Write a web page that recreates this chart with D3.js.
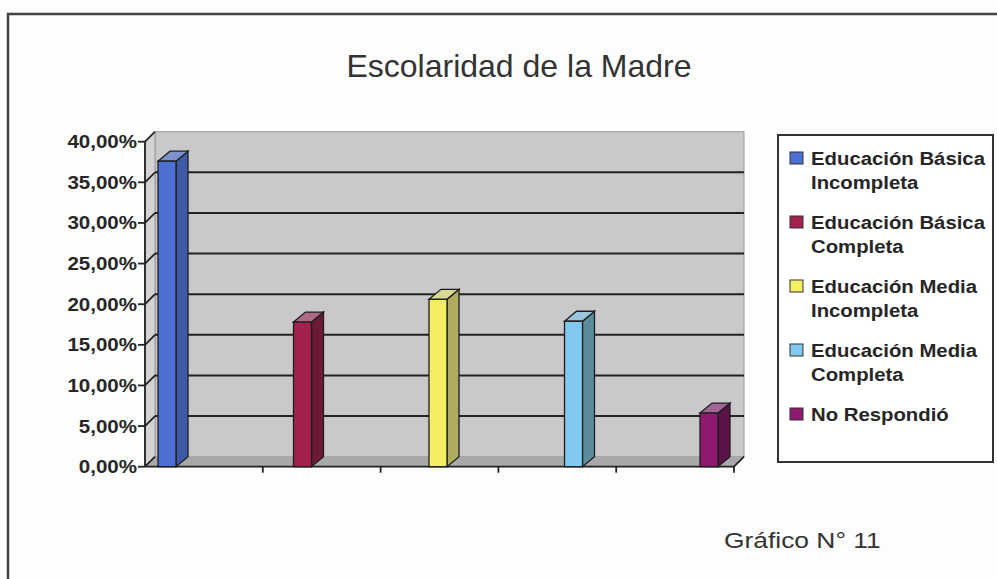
<!DOCTYPE html>
<html>
<head>
<meta charset="utf-8">
<script src="https://cdn.jsdelivr.net/npm/d3@7"></script>
<style>
  body { margin: 0; background: #fdfdfd; }
  svg { display: block; font-family: "Liberation Sans", Arial, sans-serif; }
</style>
</head>
<body>
<div id="chart"></div>
<script>
var categories = ["Educación Básica Incompleta", "Educación Básica Completa", "Educación Media Incompleta", "Educación Media Completa", "No Respondió"];
var legendLines = [["Educación Básica", "Incompleta"], ["Educación Básica", "Completa"], ["Educación Media", "Incompleta"], ["Educación Media", "Completa"], ["No Respondió"]];
var values = [37.6, 17.8, 20.6, 17.9, 6.6];
var yTicks = [0, 5, 10, 15, 20, 25, 30, 35, 40];
var colors = ["#4b6fd3", "#a3214f", "#f4ef62", "#82c9ef", "#8e1a6f"];
var sideColors = ["#3f5aa6", "#6c1b37", "#b0ab5e", "#5b8c9b", "#5a1248"];

var width = 997, height = 579;
var plotLeft = 145, plotRight = 734, plotTop = 141.7, plotBottom = 466.7;
var dx = 10, dy = -10;      // depth of back wall
var bdx = 12, bdy = -10;    // depth of a bar
var barW = 18;

var svg = d3.select("#chart").append("svg")
  .attr("width", width)
  .attr("height", height);

var yScale = d3.scaleLinear().domain([0, 40]).range([plotBottom, plotTop]);
var xPos = d3.scalePoint().domain(categories).range([167, 709]);
var xTick = d3.scaleLinear().domain([0, 5]).range([plotLeft, plotRight]);

var es = d3.formatLocale({decimal: ",", thousands: ".", grouping: [3], currency: ["", ""]});
var fmt = es.format(".2f");

// outer frame
svg.append("path")
  .attr("d", "M8," + height + "V14H" + width)
  .style("fill", "none")
  .style("stroke", "#444")
  .style("stroke-width", 2.5);

// back wall
svg.append("rect")
  .attr("x", plotLeft + dx).attr("y", plotTop + dy)
  .attr("width", plotRight - plotLeft).attr("height", plotBottom - plotTop)
  .style("fill", "#cac8ca")
  .style("stroke", "#999")
  .style("stroke-width", 1);

// side wall
svg.append("path")
  .attr("d", "M" + plotLeft + "," + plotTop + "L" + (plotLeft + dx) + "," + (plotTop + dy) +
    "L" + (plotLeft + dx) + "," + (plotBottom + dy) + "L" + plotLeft + "," + plotBottom + "Z")
  .style("fill", "#d4d2d4")
  .style("stroke", "#999")
  .style("stroke-width", 1);

// floor
svg.append("path")
  .attr("d", "M" + plotLeft + "," + plotBottom + "L" + plotRight + "," + plotBottom +
    "L" + (plotRight + dx) + "," + (plotBottom + dy) + "L" + (plotLeft + dx) + "," + (plotBottom + dy) + "Z")
  .style("fill", "#a9a8aa");

// gridlines on back wall and side wall
var grid = yTicks.filter(function(d){ return d > 0 && d < 40; });
svg.selectAll("line.grid")
  .data(grid)
  .enter().append("line")
  .attr("class", "grid")
  .attr("x1", plotLeft + dx).attr("x2", plotRight + dx)
  .attr("y1", function(d){ return yScale(d) + dy; })
  .attr("y2", function(d){ return yScale(d) + dy; })
  .style("stroke", "#222")
  .style("stroke-width", 2);

svg.selectAll("line.side")
  .data(yTicks)
  .enter().append("line")
  .attr("class", "side")
  .attr("x1", plotLeft).attr("x2", plotLeft + dx)
  .attr("y1", function(d){ return yScale(d); })
  .attr("y2", function(d){ return yScale(d) + dy; })
  .style("stroke", "#222")
  .style("stroke-width", 1.8);

// y axis
svg.append("line")
  .attr("x1", plotLeft).attr("x2", plotLeft)
  .attr("y1", plotTop).attr("y2", plotBottom)
  .style("stroke", "#222")
  .style("stroke-width", 1.8);

svg.selectAll("line.ytick")
  .data(yTicks)
  .enter().append("line")
  .attr("class", "ytick")
  .attr("x1", plotLeft - 7).attr("x2", plotLeft)
  .attr("y1", function(d){ return yScale(d); })
  .attr("y2", function(d){ return yScale(d); })
  .style("stroke", "#222")
  .style("stroke-width", 1.8);

svg.selectAll("text.ylab")
  .data(yTicks)
  .enter().append("text")
  .attr("class", "ylab")
  .attr("transform", function(d){ return "translate(137," + (yScale(d) + 6.5) + ") scale(1.14,1)"; })
  .attr("text-anchor", "end")
  .style("font-size", "18px")
  .style("font-weight", "700")
  .style("fill", "#262626")
  .text(function(d){ return fmt(d) + "%"; });

// x axis
svg.append("path")
  .attr("d", "M" + plotLeft + "," + plotBottom + "H" + plotRight + "l" + dx + "," + dy)
  .style("fill", "none")
  .style("stroke", "#222")
  .style("stroke-width", 1.8);

svg.selectAll("line.xtick")
  .data(d3.range(1, 6))
  .enter().append("line")
  .attr("class", "xtick")
  .attr("x1", function(d){ return xTick(d); })
  .attr("x2", function(d){ return xTick(d); })
  .attr("y1", plotBottom).attr("y2", plotBottom + 6)
  .style("stroke", "#222")
  .style("stroke-width", 1.8);

// bars
var bars = svg.selectAll("g.bar")
  .data(categories)
  .enter().append("g")
  .attr("class", "bar");

bars.append("path")
  .attr("d", function(d, i){
    var x = xPos(d) - barW / 2 + barW, y = yScale(values[i]);
    return "M" + x + "," + y + "l" + bdx + "," + bdy + "V" + (plotBottom + bdy) + "L" + x + "," + plotBottom + "Z";
  })
  .style("fill", function(d, i){ return sideColors[i]; })
  .style("stroke", "#1e1e1e")
  .style("stroke-width", 1.3);

bars.append("path")
  .attr("d", function(d, i){
    var x = xPos(d) - barW / 2, y = yScale(values[i]);
    return "M" + x + "," + y + "l" + bdx + "," + bdy + "h" + barW + "l" + (-bdx) + "," + (-bdy) + "Z";
  })
  .style("fill", function(d, i){ return d3.interpolateRgb(colors[i], "#b8c0c8")(0.45); })
  .style("stroke", "#1e1e1e")
  .style("stroke-width", 1.3);

bars.append("rect")
  .attr("x", function(d){ return xPos(d) - barW / 2; })
  .attr("y", function(d, i){ return yScale(values[i]); })
  .attr("width", barW)
  .attr("height", function(d, i){ return plotBottom - yScale(values[i]); })
  .style("fill", function(d, i){ return colors[i]; })
  .style("stroke", "#1e1e1e")
  .style("stroke-width", 1.3);

// title
svg.append("text")
  .attr("x", 519).attr("y", 77)
  .attr("text-anchor", "middle")
  .style("font-size", "32px")
  .style("fill", "#333")
  .text("Escolaridad de la Madre");

// legend
svg.append("rect")
  .attr("x", 778).attr("y", 135)
  .attr("width", 215).attr("height", 327)
  .style("fill", "#fff")
  .style("stroke", "#333")
  .style("stroke-width", 2);

var leg = svg.selectAll("g.leg")
  .data(legendLines)
  .enter().append("g")
  .attr("class", "leg")
  .attr("transform", function(d, i){ return "translate(0," + (165 + i * 64) + ")"; });

leg.append("rect")
  .attr("x", 790).attr("y", -13)
  .attr("width", 13).attr("height", 12)
  .style("fill", function(d, i){ return colors[i]; })
  .style("stroke", "#333")
  .style("stroke-width", 1);

leg.selectAll("text")
  .data(function(d){ return d; })
  .enter().append("text")
  .attr("transform", function(d, j){ return "translate(811," + (j * 23.5) + ") scale(1.13,1)"; })
  .style("font-size", "18px")
  .style("font-weight", "700")
  .style("fill", "#262626")
  .text(function(d){ return d; });

// footnote
svg.append("text")
  .attr("transform", "translate(724,548) scale(1.2,1)")
  .style("font-size", "22px")
  .style("fill", "#333")
  .text("Gráfico N° 11");
</script>
</body>
</html>
